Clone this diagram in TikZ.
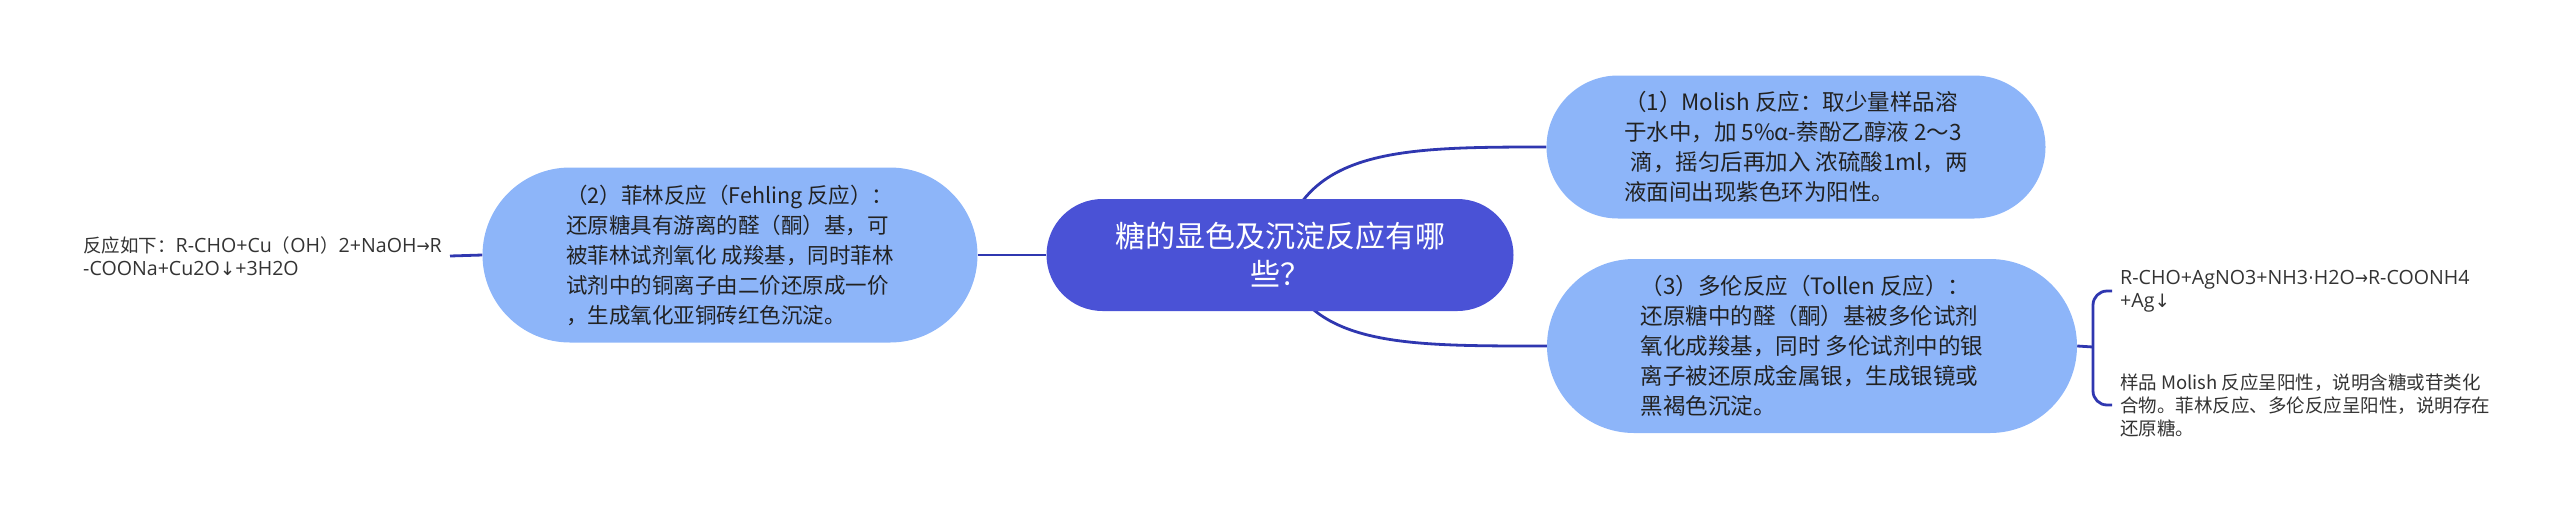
\documentclass[tikz,border=0pt]{standalone}
\usepackage{fontspec}
\newfontfamily\cjk{Noto Sans CJK SC}
\newfontfamily\symf{DejaVu Sans}
\newfontfamily\latf[Scale=1.06]{Open Sans}
\newcommand{\lat}[1]{{\latf #1}}
\newcommand{\rarr}{{\symf\scalebox{0.85}[1]{→}}}
\newcommand{\darr}{{\symf ↓}}
\newcommand{\mdot}{{\symf ·}}
\usetikzlibrary{shapes.misc,backgrounds}
\definecolor{hub}{RGB}{74,82,214}
\definecolor{sub}{RGB}{141,181,249}
\definecolor{wire}{RGB}{47,55,176}
\definecolor{ink}{RGB}{34,34,34}
\definecolor{leafink}{RGB}{51,51,51}
\tikzset{
  hubbox/.style={rounded rectangle, fill=hub, text=white, align=center, inner sep=0pt,
    font=\cjk\fontsize{30}{38}\selectfont},
  subbox/.style={rounded rectangle, fill=sub, text=ink, align=left, inner sep=0pt},
  subfont/.style={font=\cjk\fontsize{#1}{30}\selectfont},
  leaf/.style={align=left, text=leafink, inner xsep=8pt, inner ysep=0pt,
    font=\cjk\fontsize{18.5}{23}\selectfont},
  wire/.style={draw=wire, line width=2.8pt}
}
\begin{document}
\begin{tikzpicture}[x=1pt,y=-1pt]
\useasboundingbox (0,0) rectangle (2560,523);
\node[hubbox, minimum width=467, minimum height=112] (c) at (1280,255)
  {糖的显色及沉淀反应有哪\\些？};
\node[subbox, subfont=22.5, minimum width=499, minimum height=143] (n1) at (1796,147)
  {（1）Molish 反应：取少量样品溶\\于水中，加 5\%α-萘酚乙醇液 2～3\\\hspace*{0.3em}滴，摇匀后再加入 浓硫酸1ml，两\\液面间出现紫色环为阳性。};
\node[subbox, subfont=21.5, minimum width=495, minimum height=175] (n2) at (730,255)
  {（2）菲林反应（Fehling 反应）：\\还原糖具有游离的醛（酮）基，可\\被菲林试剂氧化 成羧基，同时菲林\\试剂中的铜离子由二价还原成一价\\，生成氧化亚铜砖红色沉淀。};
\node[subbox, subfont=22.5, minimum width=530, minimum height=174] (n3) at (1812,346)
  {（3）多伦反应（Tollen 反应）：\\还原糖中的醛（酮）基被多伦试剂\\氧化成羧基，同时 多伦试剂中的银\\离子被还原成金属银，生成银镜或\\黑褐色沉淀。};
\node[leaf, anchor=east] (l1) at (450,256)
  {反应如下：\lat{R-CHO+Cu}（\lat{OH}）\lat{2+NaOH}\rarr\lat{R}\\\lat{-COONa+Cu2O}\darr\lat{+3H2O}};
\node[leaf, anchor=west] (r1) at (2112,291)
  {\lat{R-CHO+AgNO3+NH3}\mdot\lat{H2O}\rarr\lat{R-COONH4}\\\lat{+Ag}\darr};
\node[leaf, anchor=west] (r2) at (2112,405)
  {样品 Molish 反应呈阳性，说明含糖或苷类化\\合物。菲林反应、多伦反应呈阳性，说明存在\\还原糖。};
\coordinate (bk) at (2093,347);
\begin{scope}[on background layer]
\draw[wire] (c.center) .. controls +(20,-107) and +(-147,0) .. (n1.west);
\draw[wire] (c.center) .. controls +(25,92) and +(-147,0) .. (n3.west);
\draw[wire] (c.west) -- (n2.east);
\draw[wire] (n2.west) -- (l1.east);
\draw[wire] (n3.east) -- (bk);
\draw[wire, rounded corners=14pt] (r1.west) -| (bk) |- (r2.west);
\end{scope}
\end{tikzpicture}
\end{document}
